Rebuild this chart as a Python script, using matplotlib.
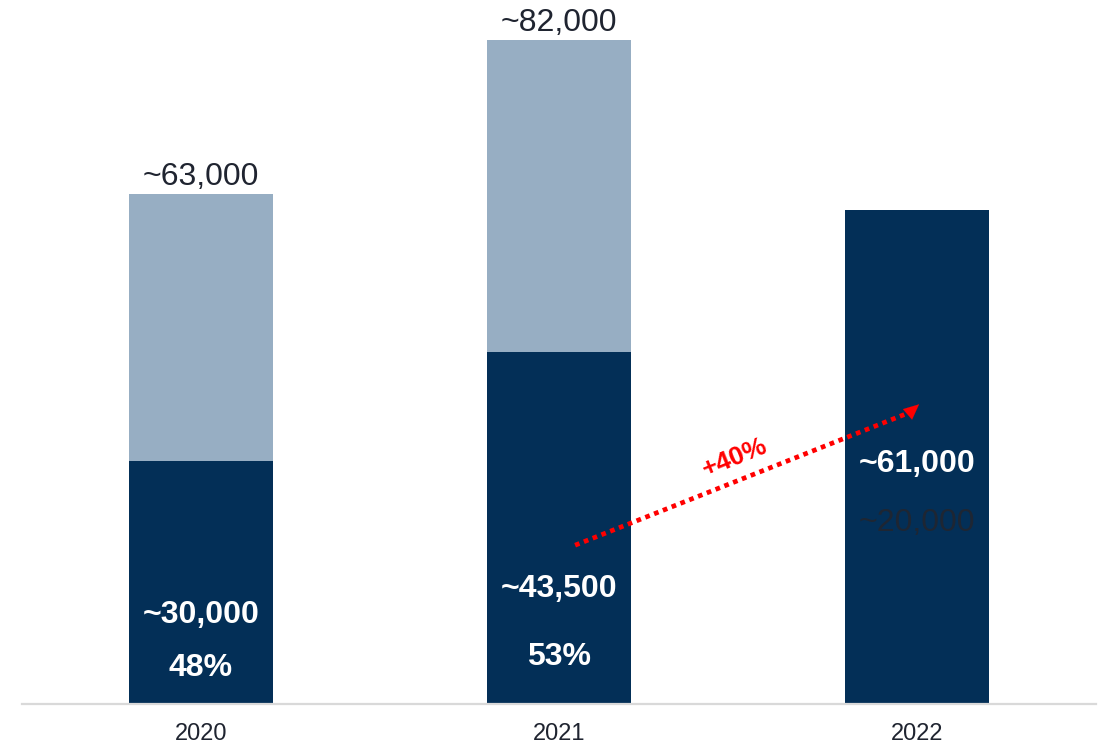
import matplotlib.pyplot as plt
import numpy as np

years = ["2020", "2021", "2022"]
totals = [63000, 82000, None]
core = [30000, 43500, 61000]
top_labels = ["~63,000", "~82,000", None]
core_labels = ["~30,000", "~43,500", "~61,000"]
share_labels = ["48%", "53%", None]
growth_label = "+40%"
side_label = "~20,000"

DARK = "#032f57"
LIGHT = "#97aec3"
TEXT = "#1f2430"

plt.rcParams['font.family'] = ['Liberation Sans', 'DejaVu Sans']

fig = plt.figure(figsize=(11.04, 7.44), dpi=100)
ax = fig.add_axes([22 / 1104, 1 - 704 / 744, 1074 / 1104, 704 / 744])

x = np.arange(len(years))
width = 0.4

# light bar shows the full total, dark bar the core part on top of it
for i in range(len(years)):
    if totals[i] is not None:
        ax.bar(x[i], totals[i], width=width, color=LIGHT, zorder=1)
    ax.bar(x[i], core[i], width=width, color=DARK, zorder=2)

ax.set_xlim(-0.5, 2.5)
ax.set_ylim(0, 86900)

for i in range(len(years)):
    if top_labels[i]:
        ax.annotate(top_labels[i], (x[i], totals[i]), xytext=(0, 1),
                    textcoords='offset points', ha='center', va='bottom',
                    fontsize=23, color=TEXT)

# labels inside the dark bars
bold = dict(ha='center', va='center', fontsize=23, fontweight='bold',
            color='white', zorder=3)
ax.text(x[0], 11000, core_labels[0], **bold)
ax.text(x[0], 4400, share_labels[0], **bold)
ax.text(x[1], 14200, core_labels[1], **bold)
ax.text(x[1], 5800, share_labels[1], **bold)
ax.text(x[2], 29600, core_labels[2], **bold)
ax.text(x[2], 22400, side_label, ha='center', va='center', fontsize=23,
        color="#1e2633", zorder=3)

# dotted growth arrow between 2021 and 2022
x0, y0 = x[1] + 0.045, 19600
x1, y1 = x[2] - 0.02, 36000
ax.plot([x0, x1], [y0, y1], color='#ff0000', lw=3.4,
        linestyle=(0, (1, 1)), dash_capstyle='butt', zorder=4)
ax.annotate("", xy=(x[2] + 0.006, 37000), xytext=(x1, y1),
            arrowprops=dict(arrowstyle='-|>,head_length=1.1,head_width=0.5',
                            color='#ff0000', lw=0.1, shrinkA=0, shrinkB=0),
            zorder=4)
ax.text(1.492, 30400, growth_label, ha='center', va='center', fontsize=19,
        fontweight='bold', color='#ff0000', rotation=22, zorder=4)

for s in ['top', 'right', 'left']:
    ax.spines[s].set_visible(False)
ax.spines['bottom'].set_color('#d9d9d9')
ax.spines['bottom'].set_linewidth(1.6)
ax.set_yticks([])
ax.set_xticks(x)
ax.set_xticklabels(years, fontsize=17, color=TEXT)
ax.tick_params(axis='x', length=0, pad=14)

fig.savefig("out.png", dpi=100)
